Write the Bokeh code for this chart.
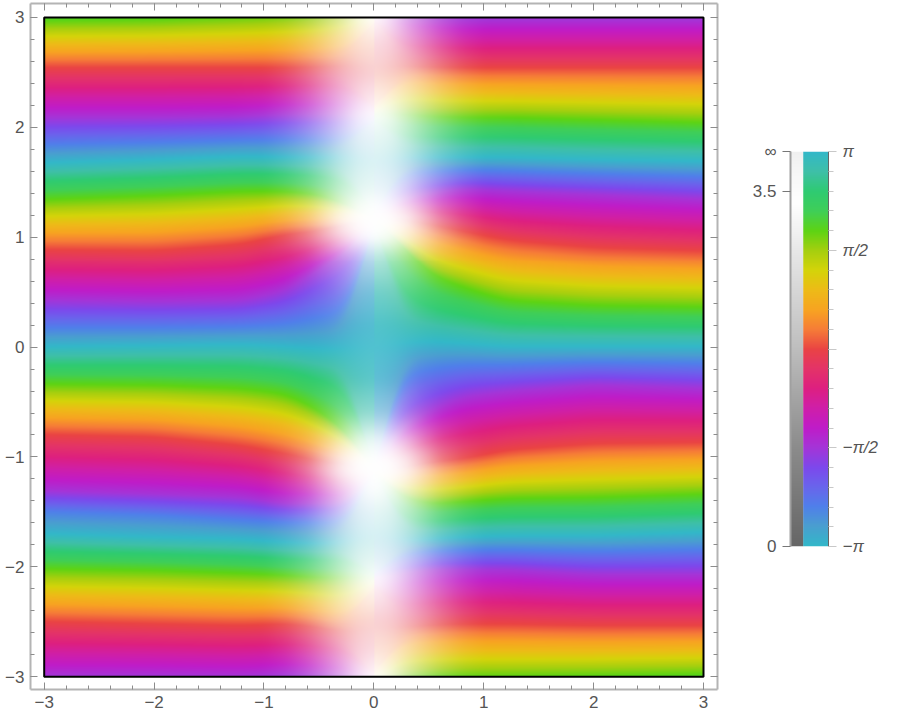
import numpy as np
from bokeh.embed import file_html
from bokeh.resources import INLINE
from bokeh.plotting import figure
from bokeh.models import FixedTicker, LinearAxis, Label, AllLabels, Range1d

# ---- values ----
tick_values = [-3, -2, -1, 0, 1, 2, 3]
tick_labels = ["−3", "−2", "−1", "0", "1", "2", "3"]
minor_values = [round(-3 + 0.2 * i, 1) for i in range(31)]

# phase colour bar: colours at every pi/10 from -pi to pi
bar_colors = ["#33b8c9", "#4a9fd0", "#5080ea", "#6a65ec", "#7e48ec", "#a535d8", "#c01cc8",
              "#d01fa8", "#de2080", "#e43468", "#ea4444", "#f67c38", "#f8a422", "#eebb18",
              "#d5d40a", "#a6cf0f", "#5ed414", "#40cf58", "#2fcb72", "#3fc0a8", "#33b8c9"]
# magnitude bar
gray_pos = [0.0, 0.25, 0.5, 0.75, 0.87, 0.94, 1.0]
gray_val = [102, 140, 190, 232, 255, 248, 240]
mag_tick_frac = [0.0, 0.8987, 1.0]
mag_tick_labels = ["0", "3.5", "∞"]

# y of the stripes (phase in units of pi), left half, per column
L_phase = [-.5, 0, .6, 1, 1.2, 1.5, 2, 2.6, 3, 3.5, 4, 4.6, 5, 5.5, 6, 6.6]
L_x = [-3, -2, -1.2, -.8, -.5, -.25, 0]
L_y = [
    [-2.99, -2.50, -2.02, -1.70, -1.50, -1.31, -.80, -.34, 0.0, .425, .89, 1.345, 1.68, 2.09, 2.545, 2.97],
    [-2.99, -2.52, -2.035, -1.73, -1.53, -1.34, -.82, -.35, .01, .41, .88, 1.38, 1.71, 2.09, 2.545, 2.98],
    [-3.0, -2.535, -2.06, -1.75, -1.58, -1.37, -.90, -.38, .02, .42, .94, 1.42, 1.74, 2.10, 2.545, 3.01],
    [-2.98, -2.52, -2.08, -1.78, -1.60, -1.43, -.975, -.43, 0.0, .51, 1.03, 1.42, 1.73, 2.12, 2.545, 3.03],
    [-2.99, -2.55, -2.10, -1.79, -1.60, -1.42, -1.04, -.58, -.02, .70, 1.06, 1.39, 1.73, 2.12, 2.55, 3.05],
    [-3.0, -2.6, -2.1, -1.78, -1.6, -1.42, -1.07, -.78, -.02, .85, 1.12, 1.3, 1.73, 2.12, 2.56, 3.1],
    [-3.05, -2.56, -2.1, -1.7, -1.15, -1.13, -1.12, -1.11, 0, 1.15, 1.16, 1.18, 1.7, 2.12, 2.56, 3.05],
]
# levels that stay flat along x = 0 between the white spots: level -> y on that line
L_flat = {-.12: -2.95, .12: -2.2, .88: -2.05, 1.12: -1.17, 2.88: -1.07, 3.12: 1.1,
          4.88: 1.25, 5.12: 2.05, 5.88: 2.2, 6.12: 2.95}
# right half
R_phase = [6.6, 6, 5.5, 5, 4.6, 4, 3.5, 3, 2.6, 2, 1.5, 1, .6, 0, -.5]
R_x = [0, .25, .5, .8, 1.2, 2, 3]
R_y = [
    [-3.05, -2.56, -2.1, -1.7, -1.14, -1.12, -1.11, 0, 1.16, 1.18, 1.19, 1.7, 2.12, 2.56, 3.05],
    [-3.02, -2.55, -2.07, -1.76, -1.37, -1.1, -.72, .03, .93, 1.16, 1.36, 1.73, 2.12, 2.56, 3.02],
    [-3.0, -2.53, -2.03, -1.75, -1.43, -1.05, -.58, .05, .66, 1.12, 1.40, 1.73, 2.10, 2.55, 3.0],
    [-3.0, -2.52, -2.03, -1.73, -1.41, -1.02, -.46, .03, .54, 1.06, 1.44, 1.73, 2.09, 2.545, 2.98],
    [-3.0, -2.52, -2.03, -1.72, -1.38, -.94, -.41, 0, .42, .98, 1.42, 1.73, 2.09, 2.545, 2.98],
    [-2.99, -2.535, -2.07, -1.72, -1.37, -.88, -.35, 0, .375, .91, 1.39, 1.71, 2.07, 2.545, 2.98],
    [-2.975, -2.535, -2.07, -1.69, -1.34, -.87, -.38, 0, .36, .88, 1.35, 1.695, 2.045, 2.545, 2.98],
]
R_flat = {6.12: -2.95, 5.88: -2.2, 5.12: -2.05, 4.88: -1.17, 3.12: -1.07, 2.88: 1.1,
          1.12: 1.25, .88: 2.05, .12: 2.2, -.12: 2.95}

# whiteness of the central glow: rows of y, columns of |x|
W_absx = [0, .15, .3, .45, .6, .8, 1.0, 1.3]
W_y = [-3, -2.75, -2.5, -2.3, -2.1, -1.95, -1.75, -1.5, -1.3, -1.125, -1.0, -.85, -.6, -.3, 0, .2, .5, .8,
       1.0, 1.17, 1.3, 1.45, 1.7, 1.95, 2.12, 2.3, 2.5, 2.75, 3.0]
W = [
    [1, .85, .6, .4, .22, .06, 0, 0],
    [.82, .76, .6, .42, .25, .08, 0, 0],
    [.76, .72, .6, .45, .28, .1, 0, 0],
    [.88, .8, .65, .47, .3, .12, .02, 0],
    [1, .88, .68, .48, .3, .12, .02, 0],
    [.88, .82, .65, .45, .26, .1, 0, 0],
    [.8, .76, .62, .42, .22, .08, 0, 0],
    [.88, .82, .65, .45, .24, .08, 0, 0],
    [1, .92, .75, .52, .28, .1, 0, 0],
    [1, 1, .92, .68, .38, .13, .02, 0],
    [1, .98, .85, .6, .3, .1, 0, 0],
    [.9, .85, .65, .4, .18, .05, 0, 0],
    [.45, .4, .28, .14, .04, 0, 0, 0],
    [.2, .15, .1, .03, 0, 0, 0, 0],
    [.15, .12, .06, .02, 0, 0, 0, 0],
    [.15, .12, .08, .03, 0, 0, 0, 0],
    [.3, .28, .2, .1, .04, 0, 0, 0],
    [.62, .55, .42, .28, .12, .03, 0, 0],
    [1, .95, .8, .58, .34, .12, 0, 0],
    [1, 1, .92, .68, .4, .15, .02, 0],
    [1, .95, .8, .58, .32, .12, 0, 0],
    [.9, .85, .7, .48, .28, .1, 0, 0],
    [.82, .78, .65, .45, .26, .1, 0, 0],
    [.9, .85, .68, .48, .3, .12, .02, 0],
    [1, .9, .7, .5, .32, .14, .03, 0],
    [.88, .8, .65, .48, .3, .12, .02, 0],
    [.76, .7, .6, .45, .28, .1, 0, 0],
    [.82, .76, .6, .42, .25, .08, 0, 0],
    [1, .85, .6, .4, .22, .06, 0, 0],
]

# ---- raster built from those readings ----
N = 660
xs = -3 + (np.arange(N) + .5) * 6 / N
ys = -3 + (np.arange(N) + .5) * 6 / N


def hex_rgb(h):
    return [int(h[i:i + 2], 16) for i in (1, 3, 5)]


bar_rgb = np.array([hex_rgb(c) for c in bar_colors], dtype=float)
bar_phase = np.linspace(-np.pi, np.pi, len(bar_colors))


def phase_to_rgb(ph):
    w = (ph + np.pi) % (2 * np.pi) - np.pi
    return np.stack([np.interp(w, bar_phase, bar_rgb[:, c]) for c in range(3)], axis=-1)


def smooth(a, k=25):
    """Running mean that keeps the two end values (ends are extended by point reflection)."""
    pad = 2 * k
    b = np.concatenate([2 * a[0] - a[pad:0:-1], a, 2 * a[-1] - a[-2:-pad - 2:-1]])
    ker = np.ones(k) / k
    for _ in range(2):
        b = np.convolve(b, ker, mode="same")
    return b[pad:-pad]


def with_flat(col_x, col_y, levels, flat):
    """Adds the levels that run flat along x = 0 to every column of stripes."""
    lev = np.array(levels, float)
    col_y = np.array(col_y, float)
    order = np.argsort(lev)
    merged = sorted(list(lev) + list(flat))
    if lev[0] > lev[-1]:
        merged = merged[::-1]
    rows = []
    for cx, ys_col in zip(col_x, col_y):
        r = []
        for m in merged:
            hit = np.where(lev == m)[0]
            if len(hit):
                r.append(ys_col[hit[0]])
            elif cx == 0:
                r.append(flat[m])
            else:
                r.append(np.interp(m, lev[order], ys_col[order]))
        rows.append(r)
    return merged, rows


def half(col_x, col_y, levels, flat, xfine):
    levels, col_y = with_flat(col_x, col_y, levels, flat)
    col_y = np.array(col_y, float)
    cols = np.stack([smooth(np.interp(xfine, col_x, col_y[:, j])) for j in range(col_y.shape[1])], axis=1)
    cols = np.maximum.accumulate(cols, axis=1)
    lev = np.array(levels, float) * np.pi
    out = np.zeros((len(ys), len(xfine)))
    for i in range(len(xfine)):
        yy = cols[i]
        s0 = (lev[1] - lev[0]) / max(yy[1] - yy[0], 1e-3)
        s1 = (lev[-1] - lev[-2]) / max(yy[-1] - yy[-2], 1e-3)
        yy2 = np.concatenate([[yy[0] - .5], yy, [yy[-1] + .5]])
        ll = np.concatenate([[lev[0] - .5 * s0], lev, [lev[-1] + .5 * s1]])
        out[:, i] = np.interp(ys, yy2, ll)
    return out


xl = xs[xs < 0]
xr = xs[xs >= 0]
phase = np.hstack([half(L_x, L_y, L_phase, L_flat, xl), half(R_x, R_y, R_phase, R_flat, xr)])
rgb = phase_to_rgb(phase)

W_arr = np.array(W, float)
w_cols = np.stack([np.interp(ys, W_y, W_arr[:, j]) for j in range(W_arr.shape[1])], axis=1)
white = np.stack([np.interp(np.abs(xs), W_absx, w_cols[i]) for i in range(N)], axis=0)
for _ in range(2):
    white = np.apply_along_axis(lambda a: smooth(a, 9), 0, white)
    white = np.apply_along_axis(lambda a: smooth(a, 9), 1, white)
white = np.clip(white, 0, 1)[..., None]
rgb = rgb * (1 - white) + 255 * white


def to_rgba(arr):
    a = np.clip(arr, 0, 255).astype(np.uint32)
    return (255 << 24) | (a[..., 2] << 16) | (a[..., 1] << 8) | a[..., 0]


# ---- main figure ----
FONT = "Liberation Sans"
TXT = "#555555"
per = 659.4 / 6
p = figure(width=740, height=716, output_backend="svg", toolbar_location=None,
           x_range=Range1d(-3 - 13.7 / per, 3 + 14 / per), y_range=Range1d(-3 - 12.8 / per, 3 + 14 / per),
           min_border_left=30, min_border_right=23, min_border_top=3, min_border_bottom=27,
           x_axis_location=None, y_axis_location=None)
p.grid.visible = False
p.outline_line_color = None
p.image_rgba(image=[to_rgba(rgb)], x=-3, y=-3, dw=6, dh=6)
p.quad(left=[-3], right=[3], bottom=[-3], top=[3], fill_color=None, line_color="#000000", line_width=2)


def main_axis(place, labelled):
    ax = LinearAxis(ticker=FixedTicker(ticks=tick_values, minor_ticks=minor_values))
    ax.axis_line_color = "#b4b4b4"
    ax.axis_line_width = 2
    ax.major_tick_line_color = "#8c8c8c"
    ax.minor_tick_line_color = "#8c8c8c"
    ax.major_tick_in = 7
    ax.major_tick_out = 0
    ax.minor_tick_in = 4
    ax.minor_tick_out = 0
    ax.major_label_policy = AllLabels()
    if labelled:
        ax.major_label_overrides = dict(zip(tick_values, tick_labels))
        ax.major_label_text_font = FONT
        ax.major_label_text_font_size = "17px"
        ax.major_label_text_color = TXT
        ax.major_label_standoff = 6
    else:
        ax.major_label_overrides = {v: "" for v in tick_values}
        ax.major_label_text_font_size = "0px"
        ax.major_label_standoff = 0
    p.add_layout(ax, place)


main_axis("below", True)
main_axis("left", True)
main_axis("above", False)
main_axis("right", False)

# ---- legend figure ----
q = figure(width=140, height=716, output_backend="svg", toolbar_location=None,
           x_range=Range1d(0, 40), y_range=Range1d(-np.pi, np.pi),
           min_border_left=50, min_border_right=50, min_border_top=151, min_border_bottom=170,
           x_axis_location=None, y_axis_location=None)
q.grid.visible = False
q.outline_line_color = None
bar_y = np.linspace(-np.pi, np.pi, 396)
q.image_rgba(image=[to_rgba(phase_to_rgb(bar_y)[:, None, :])], x=13.3, y=-np.pi, dw=26.7, dh=2 * np.pi)
g = np.interp(np.linspace(0, 1, 396), gray_pos, gray_val)
q.image_rgba(image=[to_rgba(np.stack([g, g, g], axis=-1)[:, None, :])], x=0, y=-np.pi, dw=13.3, dh=2 * np.pi)

mag_ticks = [-np.pi + f * 2 * np.pi for f in mag_tick_frac]
la = LinearAxis(ticker=FixedTicker(ticks=mag_ticks))
la.major_label_overrides = dict(zip(mag_ticks, mag_tick_labels))
la.axis_line_color = "#a0a0a0"
la.axis_line_width = 2
la.major_tick_line_color = "#777777"
la.major_tick_in = 0
la.major_tick_out = 8
la.minor_tick_out = 0
la.major_label_text_font = FONT
la.major_label_text_font_size = "17px"
la.major_label_text_color = TXT
la.major_label_standoff = 6
la.major_label_policy = AllLabels()
q.add_layout(la, "left")

phase_ticks = [-np.pi, -np.pi / 2, 0, np.pi / 2, np.pi]
phase_labels = ["−π", "−π/2", "", "π/2", "π"]
ra = LinearAxis(ticker=FixedTicker(ticks=phase_ticks, minor_ticks=list(bar_phase)))
ra.major_label_overrides = dict(zip(phase_ticks, phase_labels))
ra.axis_line_color = "#666666"
ra.axis_line_width = 1
ra.major_tick_line_color = "#c8c8c8"
ra.minor_tick_line_color = "#c8c8c8"
ra.major_tick_in = 0
ra.major_tick_out = 8
ra.minor_tick_in = 0
ra.minor_tick_out = 5
ra.major_label_text_font = FONT
ra.major_label_text_font_style = "italic"
ra.major_label_text_font_size = "17px"
ra.major_label_text_color = TXT
ra.major_label_standoff = 6
ra.major_label_policy = AllLabels()
q.add_layout(ra, "right")
q.add_layout(Label(x=54, y=0, text="0", text_font=FONT, text_font_size="17px", text_color=TXT,
                   text_baseline="middle", text_align="left"))

# two separate roots, so the frames are not lined up; the legend is placed by hand
q.styles = {"position": "absolute", "left": "740px", "top": "0px"}
open("out.html", "w").write(file_html([p, q], INLINE))
